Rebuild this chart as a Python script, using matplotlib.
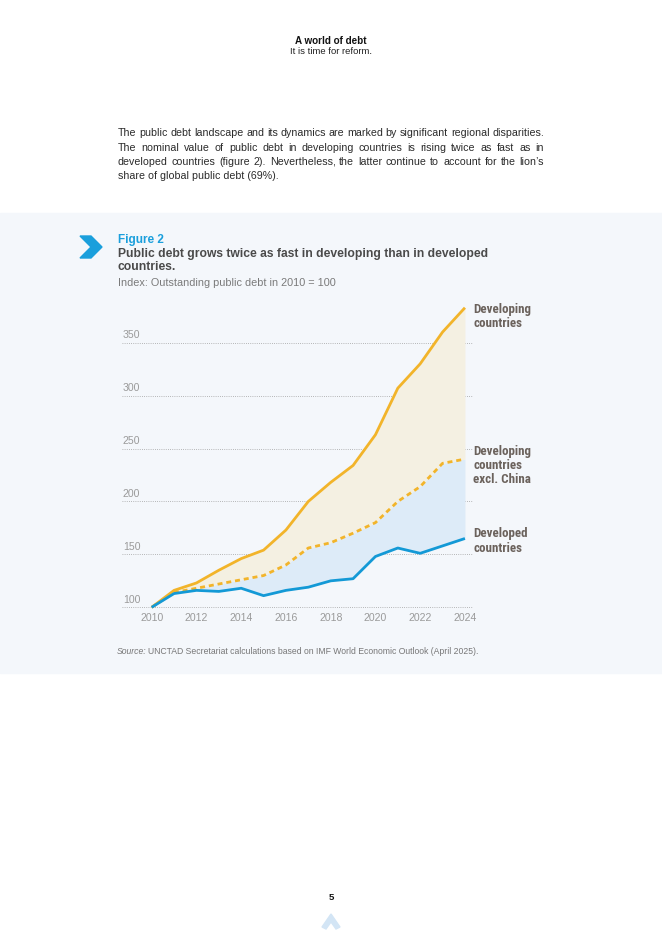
import matplotlib
matplotlib.use("Agg")
import matplotlib.pyplot as plt
from matplotlib import font_manager
from matplotlib.patches import Rectangle, Polygon


YEARS = list(range(2010, 2025))
DEVELOPING = [100, 116, 123, 135, 146, 154, 173, 200, 218, 234, 263, 307, 330, 360, 383]
DEVELOPING_EX_CHINA = [100, 114, 118, 122, 126, 130, 140, 156, 161, 170, 180, 200, 214, 236, 240]
DEVELOPED = [100, 113, 116, 115, 118, 111, 116, 119, 125, 127, 148, 156, 151, 158, 165]

Y_TICKS = [100, 150, 200, 250, 300, 350]
X_TICKS = [2010, 2012, 2014, 2016, 2018, 2020, 2022, 2024]

SERIES_LABELS = [
    "Developing\ncountries",
    "Developing\ncountries\nexcl. China",
    "Developed\ncountries",
]
LABEL_TOPS = [387.5, 253.5, 175.5]

PARAGRAPH = [
    "The public debt landscape and its dynamics are marked by significant regional disparities.",
    "The nominal value of public debt in developing countries is rising twice as fast as in",
    "developed countries (figure 2). Nevertheless, the latter continue to account for the lion\u2019s",
    "share of global public debt (69%).",
]

W, H = 662, 936
YELLOW = "#f2b42a"
BLUE = "#1399d6"
PANEL = "#f4f7fb"
SANS = ["Liberation Sans", "DejaVu Sans"]

# pick a condensed face for the series labels if one is installed
installed = {f.name for f in font_manager.fontManager.ttflist}
narrow_size = 9.4
NARROW = None
for cand in ["Roboto Condensed", "Liberation Sans Narrow", "Open Sans Condensed",
             "DejaVu Sans Condensed", "Noto Sans Condensed", "Arial Narrow"]:
    if cand in installed:
        NARROW = [cand, "DejaVu Sans"]
        break
if NARROW is None:
    NARROW = ["Roboto", "Liberation Sans", "DejaVu Sans"]
    narrow_size = 8.0


def fx(px):
    return px / W


def fy(py):
    return 1 - py / H


def justified_line(fig, text, x0, x1, y, **kw):
    renderer = fig.canvas.get_renderer()
    words = text.split()
    artists = [fig.text(0, fy(y), w, va="center", ha="left", **kw) for w in words]
    widths = [a.get_window_extent(renderer).width for a in artists]
    gap = (x1 - x0 - sum(widths)) / max(len(words) - 1, 1)
    x = x0
    for a, w in zip(artists, widths):
        a.set_x(fx(x))
        x += w + gap


plt.rcParams["font.family"] = SANS
fig = plt.figure(figsize=(W / 100, H / 100), dpi=100)
fig.patch.set_facecolor("white")

# page header
fig.text(0.5, fy(41), "A world of debt", ha="center", va="center",
         fontsize=7.1, fontweight="bold", color="#111111")
fig.text(0.5, fy(52), "It is time for reform.", ha="center", va="center",
         fontsize=6.8, color="#222222")

# body paragraph, justified
fig.canvas.draw()
para_y = [133, 148, 162, 176]
for i, (line, y) in enumerate(zip(PARAGRAPH, para_y)):
    if i < len(PARAGRAPH) - 1:
        justified_line(fig, line, 118, 544, y, fontsize=7.7, color="#2b2b2b")
    else:
        fig.text(fx(118), fy(y), line, va="center", ha="left",
                 fontsize=7.7, color="#2b2b2b")

# figure panel background
fig.add_artist(Rectangle((0, fy(673)), 1, fy(213) - fy(673),
                         transform=fig.transFigure, color=PANEL, zorder=-5))

# chevron icon
chev = [(80, 236), (91, 236), (102, 247), (91, 258), (80, 258), (91, 247)]
fig.add_artist(Polygon([(fx(x), fy(y)) for x, y in chev], closed=True,
                       transform=fig.transFigure, color="#1a9fdc"))

fig.text(fx(118), fy(240), "Figure 2", ha="left", va="center",
         fontsize=8.5, fontweight="bold", color="#1a9fdc")
fig.text(fx(118), fy(254), "Public debt grows twice as fast in developing than in developed",
         ha="left", va="center", fontsize=8.75, fontweight="bold", color="#4a4a4a")
fig.text(fx(118), fy(266.5), "countries.", ha="left", va="center",
         fontsize=8.75, fontweight="bold", color="#4a4a4a")
fig.text(fx(118), fy(282.5), "Index: Outstanding public debt in 2010 = 100",
         ha="left", va="center", fontsize=7.8, color="#7a7a7a")

# chart
ax = fig.add_axes([fx(121.7), fy(612.6), (473 - 121.7) / W, (612.6 - 295) / H])
ax.set_facecolor("none")
ax.set_xlim(2008.66, 2024.36)
ax.set_ylim(95, 395)

for y in Y_TICKS:
    ax.axhline(y, color="#a0a0a0", lw=0.6, ls=(0, (1, 1.6)), zorder=0)
    ax.annotate(str(y), xy=(0, y), xycoords=("axes fraction", "data"),
                xytext=(0.8, 5.6), textcoords="offset points",
                ha="left", va="center", fontsize=7.6, color="#9a9a9a")

ax.fill_between(YEARS, DEVELOPED, DEVELOPING_EX_CHINA, color="#ddebf8", lw=0, zorder=1)
ax.fill_between(YEARS, DEVELOPING_EX_CHINA, DEVELOPING, color="#f4f0e2", lw=0, zorder=1)

ax.plot(YEARS, DEVELOPING, color=YELLOW, lw=2.0, zorder=3, clip_on=False,
        solid_capstyle="butt")
ax.plot(YEARS, DEVELOPING_EX_CHINA, color=YELLOW, lw=2.0, ls=(0, (1.8, 1.4)),
        zorder=3, clip_on=False)
ax.plot(YEARS, DEVELOPED, color=BLUE, lw=2.0, zorder=4, clip_on=False,
        solid_capstyle="butt")

for label, top in zip(SERIES_LABELS, LABEL_TOPS):
    ax.annotate(label, xy=(1, top), xycoords=("axes fraction", "data"),
                xytext=(0.3, 0), textcoords="offset points",
                ha="left", va="top", fontsize=narrow_size, fontweight="bold",
                color="#6b625c", linespacing=1.12, family=NARROW)

ax.set_xticks(X_TICKS)
ax.set_xticklabels([str(x) for x in X_TICKS])
ax.set_yticks([])
ax.tick_params(axis="x", length=0, pad=0.6, labelsize=7.6, labelcolor="#9a9a9a")
for side in ["top", "right", "left", "bottom"]:
    ax.spines[side].set_visible(False)

# source line
renderer = fig.canvas.get_renderer()
src = fig.text(fx(117), fy(651), "Source:", ha="left", va="center",
               fontsize=6.2, style="italic", color="#777777")
src_w = src.get_window_extent(renderer).width
fig.text(fx(117 + src_w + 1.6), fy(651),
         "UNCTAD Secretariat calculations based on IMF World Economic Outlook (April 2025).",
         ha="left", va="center", fontsize=6.2, color="#777777")

# page footer
fig.text(0.5, fy(897), "5", ha="center", va="center", fontsize=6.8,
         fontweight="bold", color="#111111")
up = [(322, 927), (331, 914), (340, 927), (336, 929), (331, 922), (326, 929)]
fig.add_artist(Polygon([(fx(x), fy(y)) for x, y in up], closed=True,
                       transform=fig.transFigure, color="#d3e5f5"))

fig.savefig("out.png", dpi=100)
plt.close(fig)
